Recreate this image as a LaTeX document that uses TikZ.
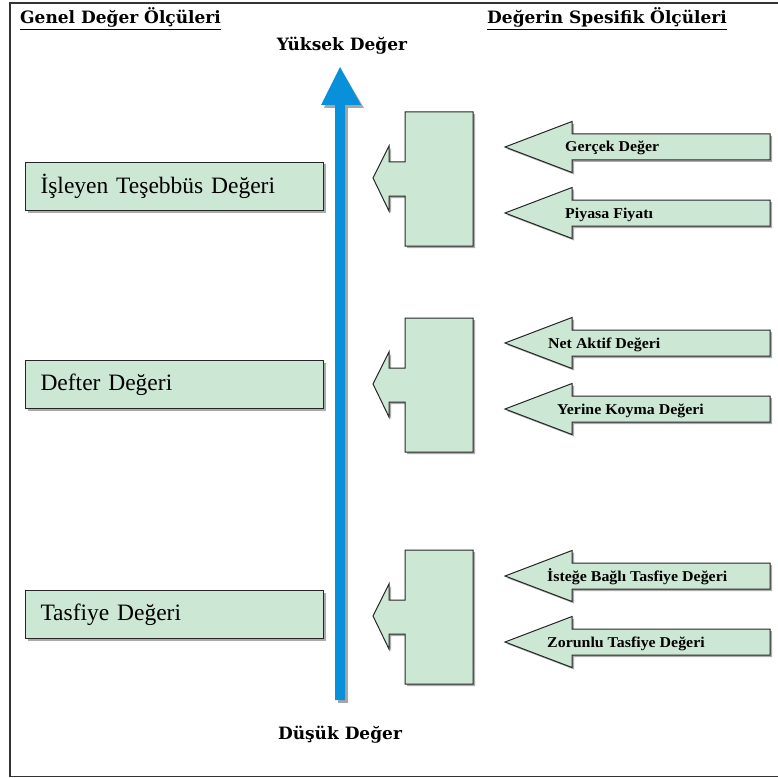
\documentclass[tikz,border=0pt]{standalone}
\usepackage{fontspec}
\setmainfont{Liberation Serif}
\newfontfamily\hdfont{DejaVu Serif}
\newfontfamily\lbfont[FakeStretch=1.06]{Liberation Serif}
\usetikzlibrary{shadows}
\definecolor{boxgreen}{RGB}{205,231,213}
\definecolor{bluearr}{RGB}{8,144,218}
\begin{document}
\begin{tikzpicture}[x=1pt,y=-1pt,
  gshape/.style={draw=black!85, line width=1pt, fill=boxgreen,
     drop shadow={fill=black!55, opacity=0.6, shadow xshift=2pt, shadow yshift=-2pt}},
  lbox/.style={gshape, anchor=north west, minimum width=298pt, minimum height=48pt,
     text width=268pt, inner xsep=15pt, inner ysep=0pt, align=left,
     font=\fontsize{23.5}{25}\selectfont},
  hdr/.style={font=\hdfont\bfseries\fontsize{17}{19}\selectfont, inner sep=0pt},
  alab/.style={font=\lbfont\bfseries\fontsize{15}{17}\selectfont, anchor=base west, inner sep=0pt}
]
\useasboundingbox (0,0) rectangle (778,778);
% frame
\draw[black!80, line width=1.5pt] (790,3) -- (10,3) -- (10,776.5) -- (790,776.5);

% headers
\node[hdr, anchor=base west] (h1) at (20,24) {\underline{Genel Değer Ölçüleri}};
\node[hdr, anchor=base west] (h2) at (487,24) {\underline{Değerin Spesifik Ölçüleri}};
\node[hdr, anchor=base] (hi) at (342,51) {Yüksek Değer};
\node[hdr, anchor=base] (lo) at (340,739) {Düşük Değer};

% blue arrow
\coordinate (top) at (340,67);
\coordinate (bot) at (340,700);
\fill[black!35] (338,108) -- (348,108) -- (348,703) -- (338,703) -- cycle;
\fill[black!35] (338,108) -- (324,108) -- (342,71) -- (364,108) -- cycle;
\fill[bluearr] (bot) ++(-5,0) -- (335,105) -- (321,105) -- (top) -- (361,105) -- (345,105) -- (345,700) -- cycle;

% left boxes
\node[lbox] (b1) at (25,162) {İşleyen Teşebbüs Değeri};
\node[lbox] (b2) at (25,360) {Defter Değeri};
\node[lbox] (b3) at (25,590) {Tasfiye Değeri};

% callouts
\foreach \T/\n in {112/c1,318/c2,550/c3}{
  \path[gshape] (473,\T) -- (473,\T+134) -- (405,\T+134) -- (405,\T+84) -- (389,\T+84)
     -- (389,\T+99) -- (373,\T+66) -- (389,\T+34) -- (389,\T+50) -- (405,\T+50) -- (405,\T) -- cycle;
  \coordinate (\n) at (373,\T+66);
}

% right arrows
\foreach \c/\n in {147/a1,213/a2,343/a3,409/a4,576/a5,642/a6}{
  \path[gshape] (770,\c-13) -- (770,\c+13) -- (572,\c+13) -- (572,\c+25.5) -- (505,\c)
     -- (572,\c-25.5) -- (572,\c-13) -- cycle;
  \coordinate (\n) at (505,\c);
}
\node[alab] (l1) at (565,152) {Gerçek Değer};
\node[alab] (l2) at (565,218) {Piyasa Fiyatı};
\node[alab] (l3) at (548,348) {Net Aktif Değeri};
\node[alab] (l4) at (557,414) {Yerine Koyma Değeri};
\node[alab] (l5) at (547,581) {İsteğe Bağlı Tasfiye Değeri};
\node[alab] (l6) at (547,647) {Zorunlu Tasfiye Değeri};
\end{tikzpicture}
\end{document}
